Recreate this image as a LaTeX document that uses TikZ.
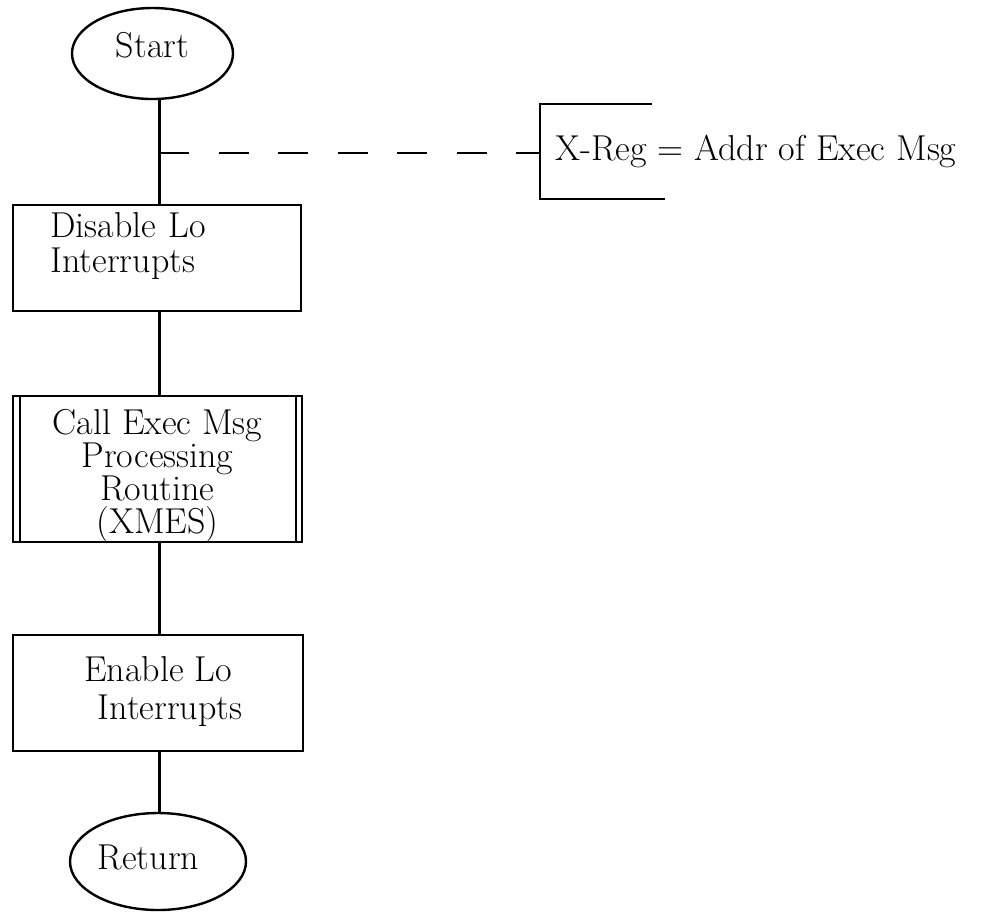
\documentclass[tikz,border=0pt]{standalone}
\usepackage{fontspec}
\usetikzlibrary{shapes.geometric}
\newcommand\dstrut[1]{\rule[-#1]{0pt}{#1}}
\newcommand\hstrut[1]{\rule{0pt}{#1}}
\begin{document}
\begin{tikzpicture}[x=0.5pt,y=-0.5pt,
  every node/.style={font=\fontsize{18}{16}\selectfont},
  term/.style={draw,ellipse,line width=1.2pt,inner sep=0pt},
  procbox/.style={draw,rectangle,line width=1pt,inner sep=0pt,align=center},
  link/.style={line width=1.5pt},
  notelink/.style={line width=1pt,dash pattern=on 15pt off 14.75pt},
  bracket/.style={line width=1pt}]
\useasboundingbox (0,0) rectangle (1007,912);
\coordinate (spine) at (159,0);
\node[term,minimum width=80.5pt,minimum height=45.5pt] (start) at (152.5,53.5) {Start\dstrut{9pt}};
\node[procbox,minimum width=144pt,minimum height=53pt,text width=106pt,inner xsep=19pt,align=left,
  font=\fontsize{18}{17.5}\selectfont] (box1) at (156.5,258) {Disable Lo\\Interrupts\dstrut{16pt}};
\node[procbox,minimum width=144.5pt,minimum height=72pt,font=\fontsize{18}{16.5}\selectfont] (box2) at (157.5,469)
  {\hstrut{19pt}Call Exec Msg\\Processing\\Routine\\(XMES)};
\draw[line width=1pt] ([xshift=4pt]box2.north west) -- ([xshift=4pt]box2.south west);
\draw[line width=1pt] ([xshift=-3.5pt]box2.north east) -- ([xshift=-3.5pt]box2.south east);
\node[procbox,minimum width=145pt,minimum height=58pt,font=\fontsize{18}{19}\selectfont] (box3) at (158,693)
  {Enable Lo\\\hspace*{12pt}Interrupts\dstrut{5.5pt}};
\node[term,minimum width=88pt,minimum height=48.5pt] (ret) at (158,861.5) {Return\hspace{9.5pt}\dstrut{4pt}};
\node[anchor=base west,inner sep=0pt] (note) at (555,160) {X-Reg = Addr of Exec Msg};
\coordinate (br) at (540,153);
\coordinate (tap) at (159,153);
\draw[link] (spine |- start.south) -- (spine |- box1.north);
\draw[link] (spine |- box1.south) -- (spine |- box2.north);
\draw[link] (spine |- box2.south) -- (spine |- box3.north);
\draw[link] (spine |- box3.south) -- (spine |- ret.north);
\draw[notelink] (tap) -- (br);
\draw[bracket] (652,104) -- (540,104) -- (540,199) -- (665,199);
\end{tikzpicture}
\end{document}
